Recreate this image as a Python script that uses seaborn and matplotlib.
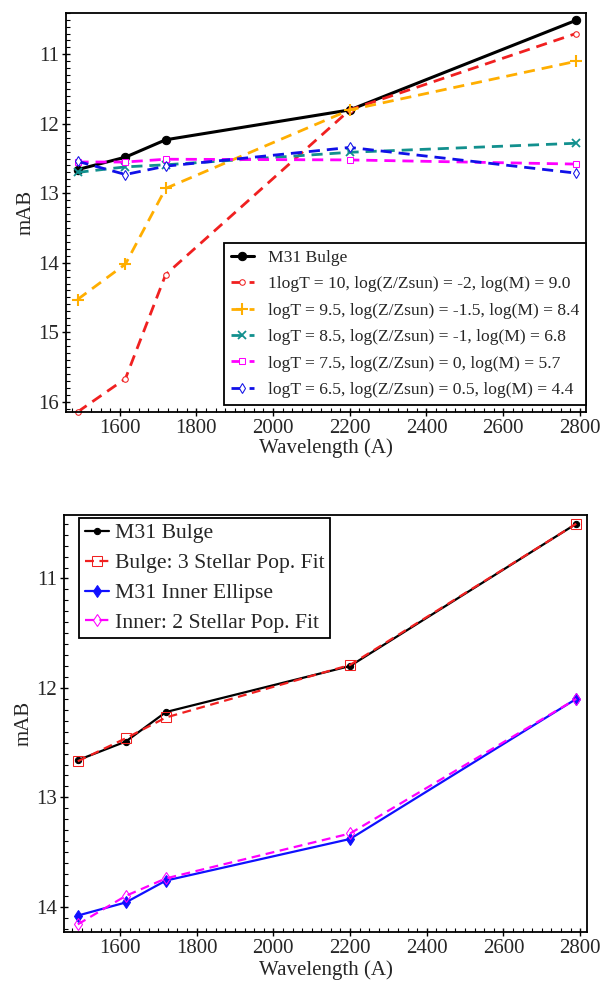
import numpy as np
import pandas as pd
import seaborn as sns
import matplotlib
matplotlib.use("Agg")
import matplotlib.pyplot as plt
from matplotlib.ticker import MultipleLocator

# ---------------- data ----------------
wavelength = [1490, 1615, 1720, 2200, 2790]

# top panel
m31_bulge = [12.66, 12.48, 12.23, 11.80, 10.51]
pop_logT10 = [16.15, 15.67, 14.17, 11.80, 10.70]
pop_logT95 = [14.53, 14.02, 12.93, 11.80, 11.10]
pop_logT85 = [12.70, 12.62, 12.59, 12.41, 12.28]
pop_logT75 = [12.55, 12.55, 12.51, 12.52, 12.58]
pop_logT65 = [12.54, 12.73, 12.61, 12.34, 12.71]

top_labels = [
    "M31 Bulge",
    "1logT = 10, log(Z/Zsun) = -2, log(M) = 9.0",
    "logT = 9.5, log(Z/Zsun) = -1.5, log(M) = 8.4",
    "logT = 8.5, log(Z/Zsun) = -1, log(M) = 6.8",
    "logT = 7.5, log(Z/Zsun) = 0, log(M) = 5.7",
    "logT = 6.5, log(Z/Zsun) = 0.5, log(M) = 4.4",
]

# bottom panel
bulge_obs = [12.66, 12.49, 12.22, 11.80, 10.50]
bulge_fit = [12.67, 12.46, 12.27, 11.79, 10.50]
inner_obs = [14.08, 13.96, 13.76, 13.38, 12.10]
inner_fit = [14.16, 13.90, 13.74, 13.33, 12.10]

bottom_labels = [
    "M31 Bulge",
    "Bulge: 3 Stellar Pop. Fit",
    "M31 Inner Ellipse",
    "Inner: 2 Stellar Pop. Fit",
]

x_ticks = [1600, 1800, 2000, 2200, 2400, 2600, 2800]

# ---------------- style ----------------
sns.set_style("ticks")
plt.rcParams["font.family"] = ["Liberation Serif", "DejaVu Serif"]
plt.rcParams["axes.linewidth"] = 1.3

fig = plt.figure(figsize=(6.08, 9.84), dpi=100)
ax1 = fig.add_axes([66 / 608, 1 - 412 / 984, 520 / 608, 399.3 / 984])
ax2 = fig.add_axes([64 / 608, 1 - 932 / 984, 523 / 608, 417 / 984])

DASH = (4, 2.5)

top_series = [m31_bulge, pop_logT10, pop_logT95, pop_logT85, pop_logT75, pop_logT65]
top_styles = [
    dict(color="black", marker="o", ms=6, mfc="black", ls="-", lw=2.2),
    dict(color="#f02020", marker="o", ms=4, mfc="white", ls="--", lw=2.0),
    dict(color="#ffae00", marker="+", ms=9, mew=1.5, ls="--", lw=2.0),
    dict(color="#12908e", marker="x", ms=5.5, mew=1.3, ls="--", lw=2.0),
    dict(color="#ff00ff", marker="s", ms=4.5, mfc="white", ls="--", lw=2.0),
    dict(color="#1010e8", marker="d", ms=5, mfc="white", ls="--", lw=2.0),
]

for vals, lab, st in zip(top_series, top_labels, top_styles):
    df = pd.DataFrame({"wl": wavelength, "mab": vals})
    st = dict(st)
    ls = st.pop("ls")
    sns.lineplot(data=df, x="wl", y="mab", ax=ax1, label=lab,
                 markeredgecolor=st["color"], **st)
    ln = ax1.lines[-1]
    if ls == "--":
        ln.set_linestyle((0, DASH))
    ln.set_clip_on(False)

ax1.set_xlim(1460, 2816)
ax1.set_ylim(16.15, 10.4)
ax1.set_xticks(x_ticks)
ax1.set_yticks([11, 12, 13, 14, 15, 16])
ax1.xaxis.set_minor_locator(MultipleLocator(25))
ax1.yaxis.set_minor_locator(MultipleLocator(0.1))
ax1.set_xlabel("Wavelength (A)", fontsize=15, labelpad=0)
ax1.set_ylabel("mAB", fontsize=15, labelpad=2)
leg1 = ax1.legend(loc="lower right", bbox_to_anchor=(1.0, 0.0175),
                  borderaxespad=0, fontsize=12.6, handlelength=1.3,
                  labelspacing=0.58, frameon=True, fancybox=False,
                  borderpad=0.4, handletextpad=0.8)
leg1.get_frame().set_edgecolor("black")
leg1.get_frame().set_linewidth(1.3)
leg1.get_frame().set_alpha(1)

bottom_series = [bulge_obs, bulge_fit, inner_obs, inner_fit]
bottom_styles = [
    dict(color="black", marker="o", ms=4.5, mfc="black", ls="-", lw=1.6),
    dict(color="#f02020", marker="s", ms=7, mfc="none", ls="--", lw=1.6),
    dict(color="#1010ff", marker="d", ms=6, mfc="#1010ff", ls="-", lw=1.6),
    dict(color="#ff00ff", marker="d", ms=6, mfc="none", ls="--", lw=1.6),
]
for vals, lab, st in zip(bottom_series, bottom_labels, bottom_styles):
    df = pd.DataFrame({"wl": wavelength, "mab": vals})
    st = dict(st)
    ls = st.pop("ls")
    sns.lineplot(data=df, x="wl", y="mab", ax=ax2, label=lab,
                 markeredgecolor=st["color"], **st)
    ln = ax2.lines[-1]
    if ls == "--":
        ln.set_linestyle((0, DASH))
    ln.set_clip_on(False)

ax2.set_xlim(1454, 2818)
ax2.set_ylim(14.23, 10.42)
ax2.set_xticks(x_ticks)
ax2.set_yticks([11, 12, 13, 14])
ax2.xaxis.set_minor_locator(MultipleLocator(25))
ax2.yaxis.set_minor_locator(MultipleLocator(0.1))
ax2.set_xlabel("Wavelength (A)", fontsize=15, labelpad=2)
ax2.set_ylabel("mAB", fontsize=15, labelpad=2)
leg2 = ax2.legend(loc="upper left", bbox_to_anchor=(0.0296, 0.9935),
                  borderaxespad=0, fontsize=15.6, handlelength=1.1,
                  labelspacing=0.45, frameon=True, fancybox=False,
                  borderpad=0.25, handletextpad=0.3)
leg2.get_frame().set_edgecolor("black")
leg2.get_frame().set_linewidth(1.3)
leg2.get_frame().set_alpha(1)

for ax in (ax1, ax2):
    ax.tick_params(axis="both", which="major", direction="inout", length=6,
                   width=1.0, labelsize=15, color="black", pad=2)
    ax.tick_params(axis="both", which="minor", direction="in", length=3,
                   width=0.8, color="black")
    for sp in ax.spines.values():
        sp.set_visible(True)
        sp.set_color("black")

fig.savefig("out.png", dpi=100)
